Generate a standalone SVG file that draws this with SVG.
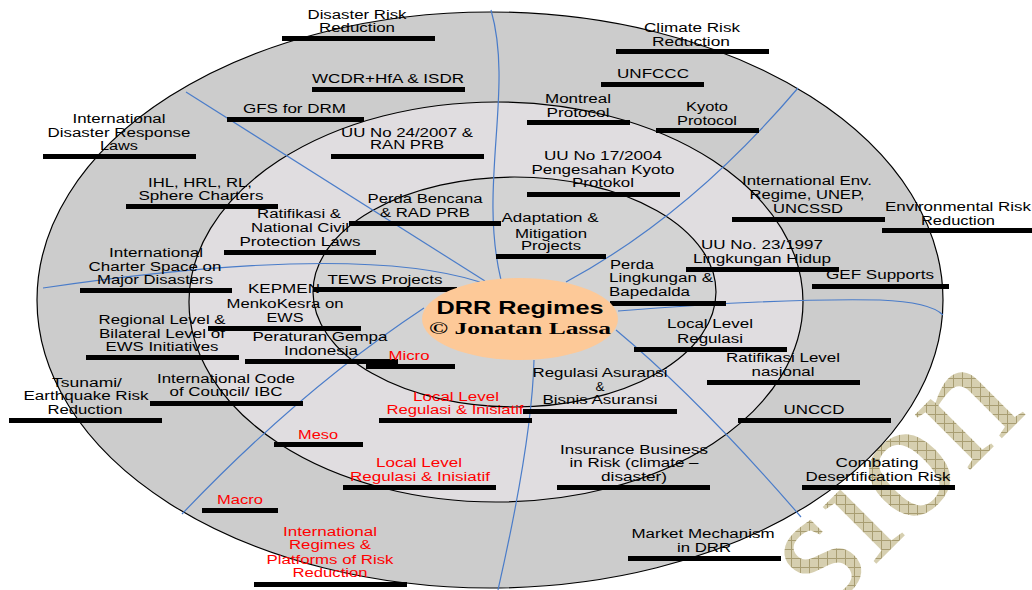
<svg xmlns="http://www.w3.org/2000/svg" width="1032" height="590" viewBox="0 0 1032 590">
<style>
.t{font-family:"Liberation Sans",Arial,sans-serif;font-size:12px;fill:#000;text-anchor:middle}
.s{text-anchor:start}
.r{fill:#ff0000}
.bar{fill:#000}
.conn{fill:none;stroke:#4a7cc9;stroke-width:1.2}
.ring{stroke:#000;stroke-width:1.2}
</style>
<defs>
<pattern id="hatch" width="9" height="9" patternUnits="userSpaceOnUse" patternTransform="rotate(-45)">
<rect width="9" height="9" fill="#d6cfb0"/>
<path d="M0,0.5H9M0.5,0V9" stroke="#a89d72" stroke-width="1"/>
</pattern>
</defs>
<rect width="1032" height="590" fill="#fff"/>
<text id="watermark" transform="translate(827,613) rotate(-45)" font-family="Liberation Serif,serif" font-size="170" fill="url(#hatch)">sion</text>
<g id="rings">
<ellipse class="ring" cx="490" cy="300" rx="453" ry="288" fill="#cccccc"/>
<ellipse class="ring" cx="496" cy="302" rx="307" ry="200" fill="#e0dde0"/>
<ellipse class="ring" cx="514.5" cy="292" rx="201.5" ry="115" fill="#d3d3d3"/>
</g>
<g id="connectors">
<path class="conn" d="M491,10 C514,90 478,185 501,280"/>
<path class="conn" d="M186,92 Q340,190 485,281"/>
<path class="conn" d="M43,288 C200,265 380,250 480,282"/>
<path class="conn" d="M424,308 Q300,390 182,514"/>
<path class="conn" d="M534,360 Q532,440 498,590"/>
<path class="conn" d="M616,330 Q700,400 801,517"/>
<path class="conn" d="M618,311 Q780,298 880,300 Q930,302 943,315"/>
<path class="conn" d="M566,282 Q690,215 798,88"/>
</g>
<g id="n-disaster-risk-reduction"><text class="t" x="357" y="18.5" textLength="99" lengthAdjust="spacingAndGlyphs">Disaster Risk</text><text class="t" x="357" y="32" textLength="76" lengthAdjust="spacingAndGlyphs">Reduction</text><rect class="bar" x="282" y="36" width="153" height="5"/></g>
<g id="n-wcdr"><text class="t" x="388" y="83" textLength="152" lengthAdjust="spacingAndGlyphs">WCDR+HfA &amp; ISDR</text><rect class="bar" x="312" y="87" width="153" height="5"/></g>
<g id="n-gfs"><text class="t" x="294.5" y="113" textLength="103" lengthAdjust="spacingAndGlyphs">GFS for DRM</text><rect class="bar" x="227" y="117" width="137" height="5"/></g>
<g id="n-idrl"><text class="t" x="119" y="122.7" textLength="93" lengthAdjust="spacingAndGlyphs">International</text><text class="t" x="119" y="137" textLength="143" lengthAdjust="spacingAndGlyphs">Disaster Response</text><text class="t" x="119" y="150" textLength="38" lengthAdjust="spacingAndGlyphs">Laws</text><rect class="bar" x="43" y="154" width="153" height="5"/></g>
<g id="n-ihl"><text class="t" x="200" y="187" textLength="104" lengthAdjust="spacingAndGlyphs">IHL, HRL, RL,</text><text class="t" x="201" y="200" textLength="125" lengthAdjust="spacingAndGlyphs">Sphere Charters</text><rect class="bar" x="126" y="204" width="152" height="5"/></g>
<g id="n-uu24"><text class="t" x="407" y="136.7" textLength="132" lengthAdjust="spacingAndGlyphs">UU No 24/2007 &amp;</text><text class="t" x="407" y="149" textLength="74" lengthAdjust="spacingAndGlyphs">RAN PRB</text><rect class="bar" x="331" y="154" width="153" height="5"/></g>
<g id="n-montreal"><text class="t" x="578" y="102.7" textLength="66" lengthAdjust="spacingAndGlyphs">Montreal</text><text class="t" x="578" y="116.7" textLength="63" lengthAdjust="spacingAndGlyphs">Protocol</text><rect class="bar" x="527" y="120" width="103" height="5"/></g>
<g id="n-kyoto"><text class="t" x="707" y="111" textLength="42" lengthAdjust="spacingAndGlyphs">Kyoto</text><text class="t" x="707" y="125" textLength="60" lengthAdjust="spacingAndGlyphs">Protocol</text><rect class="bar" x="656" y="128" width="103" height="5"/></g>
<g id="n-climate-risk-reduction"><text class="t" x="692" y="31.7" textLength="96" lengthAdjust="spacingAndGlyphs">Climate Risk</text><text class="t" x="691" y="45.7" textLength="78" lengthAdjust="spacingAndGlyphs">Reduction</text><rect class="bar" x="616" y="49" width="153" height="5"/></g>
<g id="n-unfccc"><text class="t" x="653" y="78" textLength="72" lengthAdjust="spacingAndGlyphs">UNFCCC</text><rect class="bar" x="601" y="82" width="103" height="5"/></g>
<g id="n-uu17"><text class="t" x="603" y="160" textLength="118" lengthAdjust="spacingAndGlyphs">UU No 17/2004</text><text class="t" x="603" y="174" textLength="143" lengthAdjust="spacingAndGlyphs">Pengesahan Kyoto</text><text class="t" x="603" y="186.7" textLength="62" lengthAdjust="spacingAndGlyphs">Protokol</text><rect class="bar" x="527" y="192" width="153" height="5"/></g>
<g id="n-perda-bencana"><text class="t" x="425" y="203.3" textLength="115" lengthAdjust="spacingAndGlyphs">Perda Bencana</text><text class="t" x="425" y="216.7" textLength="90" lengthAdjust="spacingAndGlyphs">&amp; RAD PRB</text><rect class="bar" x="349" y="221" width="152" height="5"/></g>
<g id="n-ratifikasi"><text class="t" x="299" y="217.7" textLength="84" lengthAdjust="spacingAndGlyphs">Ratifikasi &amp;</text><text class="t" x="300" y="232.3" textLength="98" lengthAdjust="spacingAndGlyphs">National Civil</text><text class="t" x="300" y="246" textLength="121" lengthAdjust="spacingAndGlyphs">Protection Laws</text><rect class="bar" x="224" y="250" width="152" height="5"/></g>
<g id="n-adaptation"><text class="t" x="550" y="222.3" textLength="97" lengthAdjust="spacingAndGlyphs">Adaptation &amp;</text><text class="t" x="551" y="237.7" textLength="72" lengthAdjust="spacingAndGlyphs">Mitigation</text><text class="t" x="551" y="250" textLength="60" lengthAdjust="spacingAndGlyphs">Projects</text><rect class="bar" x="496" y="254" width="110" height="5"/></g>
<g id="n-intl-env"><text class="t" x="807" y="185" textLength="130" lengthAdjust="spacingAndGlyphs">International Env.</text><text class="t" x="807" y="199" textLength="115" lengthAdjust="spacingAndGlyphs">Regime, UNEP,</text><text class="t" x="808" y="213.3" textLength="70" lengthAdjust="spacingAndGlyphs">UNCSSD</text><rect class="bar" x="732" y="217" width="153" height="5"/></g>
<g id="n-env-risk-reduction"><text class="t" x="958" y="211" textLength="146" lengthAdjust="spacingAndGlyphs">Environmental Risk</text><text class="t" x="958" y="225" textLength="74" lengthAdjust="spacingAndGlyphs">Reduction</text><rect class="bar" x="882" y="228" width="150" height="5"/></g>
<g id="n-uu23"><text class="t" x="762" y="249" textLength="122" lengthAdjust="spacingAndGlyphs">UU No. 23/1997</text><text class="t" x="762" y="262.7" textLength="138" lengthAdjust="spacingAndGlyphs">Lingkungan Hidup</text><rect class="bar" x="686" y="267" width="153" height="5"/></g>
<g id="n-gef"><text class="t" x="880" y="279" textLength="108" lengthAdjust="spacingAndGlyphs">GEF Supports</text><rect class="bar" x="812" y="284" width="137" height="5"/></g>
<g id="n-perda-lingkungan"><text class="t s" x="610" y="269" textLength="44" lengthAdjust="spacingAndGlyphs">Perda</text><text class="t s" x="609" y="282.3" textLength="104" lengthAdjust="spacingAndGlyphs">Lingkungan &amp;</text><text class="t s" x="609" y="296" textLength="81" lengthAdjust="spacingAndGlyphs">Bapedalda</text><rect class="bar" x="610" y="301" width="116" height="5"/></g>
<g id="n-kepmen"><text class="t" x="284" y="293.3" textLength="72" lengthAdjust="spacingAndGlyphs">KEPMEN</text><text class="t" x="285" y="308.3" textLength="117" lengthAdjust="spacingAndGlyphs">MenkoKesra on</text><text class="t" x="285" y="321.7" textLength="37" lengthAdjust="spacingAndGlyphs">EWS</text><rect class="bar" x="208" y="326" width="153" height="5"/></g>
<g id="n-tews"><text class="t" x="385" y="284" textLength="115" lengthAdjust="spacingAndGlyphs">TEWS Projects</text><rect class="bar" x="313" y="287" width="144" height="5"/></g>
<g id="n-charter"><text class="t" x="156" y="256.7" textLength="94" lengthAdjust="spacingAndGlyphs">International</text><text class="t" x="155" y="271" textLength="133" lengthAdjust="spacingAndGlyphs">Charter Space on</text><text class="t" x="155" y="284" textLength="116" lengthAdjust="spacingAndGlyphs">Major Disasters</text><rect class="bar" x="80" y="288" width="152" height="5"/></g>
<g id="n-regional"><text class="t" x="162" y="324.3" textLength="127" lengthAdjust="spacingAndGlyphs">Regional Level &amp;</text><text class="t" x="162" y="337.7" textLength="126" lengthAdjust="spacingAndGlyphs">Bilateral Level of</text><text class="t" x="162" y="351" textLength="113" lengthAdjust="spacingAndGlyphs">EWS Initiatives</text><rect class="bar" x="86" y="355" width="153" height="5"/></g>
<g id="n-peraturan"><text class="t" x="320" y="340.7" textLength="135" lengthAdjust="spacingAndGlyphs">Peraturan Gempa</text><text class="t" x="321" y="355" textLength="74" lengthAdjust="spacingAndGlyphs">Indonesia</text><rect class="bar" x="245" y="359" width="153" height="5"/></g>
<g id="n-micro"><text class="t r" x="409" y="360" textLength="41" lengthAdjust="spacingAndGlyphs">Micro</text><rect class="bar" x="366" y="364" width="89" height="5"/></g>
<g id="n-tsunami"><text class="t" x="87" y="386.7" textLength="70" lengthAdjust="spacingAndGlyphs">Tsunami/</text><text class="t" x="86" y="400" textLength="125" lengthAdjust="spacingAndGlyphs">Earthquake Risk</text><text class="t" x="85" y="414" textLength="75" lengthAdjust="spacingAndGlyphs">Reduction</text><rect class="bar" x="9" y="418" width="153" height="5"/></g>
<g id="n-ibc"><text class="t" x="226" y="383" textLength="138" lengthAdjust="spacingAndGlyphs">International Code</text><text class="t" x="226" y="396" textLength="113" lengthAdjust="spacingAndGlyphs">of Council/ IBC</text><rect class="bar" x="150" y="401" width="153" height="5"/></g>
<g id="n-local-inner"><text class="t r" x="456" y="401" textLength="86" lengthAdjust="spacingAndGlyphs">Local Level</text><text class="t r" x="455" y="414" textLength="137" lengthAdjust="spacingAndGlyphs">Regulasi &amp; Inisiatif</text><rect class="bar" x="379" y="418" width="153" height="5"/></g>
<g id="n-asuransi"><text class="t" x="600" y="376.7" textLength="135" lengthAdjust="spacingAndGlyphs">Regulasi Asuransi</text><text class="t" x="600" y="391" textLength="9" lengthAdjust="spacingAndGlyphs">&amp;</text><text class="t" x="600" y="404" textLength="115" lengthAdjust="spacingAndGlyphs">Bisnis Asuransi</text><rect class="bar" x="523" y="409" width="154" height="5"/></g>
<g id="n-local-regulasi"><text class="t" x="710" y="328" textLength="86" lengthAdjust="spacingAndGlyphs">Local Level</text><text class="t" x="710" y="343" textLength="66" lengthAdjust="spacingAndGlyphs">Regulasi</text><rect class="bar" x="634" y="347" width="153" height="5"/></g>
<g id="n-ratifikasi-nasional"><text class="t" x="783" y="362" textLength="114" lengthAdjust="spacingAndGlyphs">Ratifikasi Level</text><text class="t" x="783" y="376" textLength="63" lengthAdjust="spacingAndGlyphs">nasional</text><rect class="bar" x="707" y="380" width="153" height="5"/></g>
<g id="n-unccd"><text class="t" x="814" y="414" textLength="61" lengthAdjust="spacingAndGlyphs">UNCCD</text><rect class="bar" x="738" y="418" width="153" height="5"/></g>
<g id="n-insurance"><text class="t" x="634" y="454" textLength="148" lengthAdjust="spacingAndGlyphs">Insurance Business</text><text class="t" x="634" y="467" textLength="129" lengthAdjust="spacingAndGlyphs">in Risk (climate –</text><text class="t" x="634" y="480.7" textLength="66" lengthAdjust="spacingAndGlyphs">disaster)</text><rect class="bar" x="557" y="485" width="153" height="5"/></g>
<g id="n-desertification"><text class="t" x="877" y="467" textLength="83" lengthAdjust="spacingAndGlyphs">Combating</text><text class="t" x="878" y="481" textLength="145" lengthAdjust="spacingAndGlyphs">Desertification Risk</text><rect class="bar" x="802" y="485" width="153" height="5"/></g>
<g id="n-market"><text class="t" x="703" y="538" textLength="143" lengthAdjust="spacingAndGlyphs">Market Mechanism</text><text class="t" x="704" y="552" textLength="54" lengthAdjust="spacingAndGlyphs">in DRR</text><rect class="bar" x="628" y="556" width="153" height="5"/></g>
<g id="n-meso"><text class="t r" x="318" y="439" textLength="40" lengthAdjust="spacingAndGlyphs">Meso</text><rect class="bar" x="274" y="442" width="89" height="5"/></g>
<g id="n-local-middle"><text class="t r" x="419" y="467" textLength="86" lengthAdjust="spacingAndGlyphs">Local Level</text><text class="t r" x="420" y="480.7" textLength="140" lengthAdjust="spacingAndGlyphs">Regulasi &amp; Inisiatif</text><rect class="bar" x="343" y="485" width="153" height="5"/></g>
<g id="n-macro"><text class="t r" x="240" y="504" textLength="46" lengthAdjust="spacingAndGlyphs">Macro</text><rect class="bar" x="202" y="508" width="76" height="5"/></g>
<g id="n-intl-regimes"><text class="t r" x="330" y="535.7" textLength="94" lengthAdjust="spacingAndGlyphs">International</text><text class="t r" x="330" y="549" textLength="82" lengthAdjust="spacingAndGlyphs">Regimes &amp;</text><text class="t r" x="330" y="564" textLength="127" lengthAdjust="spacingAndGlyphs">Platforms of Risk</text><text class="t r" x="330" y="576.7" textLength="75" lengthAdjust="spacingAndGlyphs">Reduction</text><rect class="bar" x="254" y="582" width="153" height="5"/></g>
<g id="n-center">
<ellipse cx="520" cy="319" rx="98" ry="41" fill="#fdc998"/>
<text x="520" y="314" font-family="Liberation Sans,Arial,sans-serif" font-weight="bold" font-size="19" text-anchor="middle" textLength="167" lengthAdjust="spacingAndGlyphs">DRR Regimes</text>
<text x="520" y="334.3" font-family="Liberation Serif,Times New Roman,serif" font-weight="bold" font-size="17" text-anchor="middle" textLength="182" lengthAdjust="spacingAndGlyphs">© Jonatan Lassa</text>
</g>
</svg>
